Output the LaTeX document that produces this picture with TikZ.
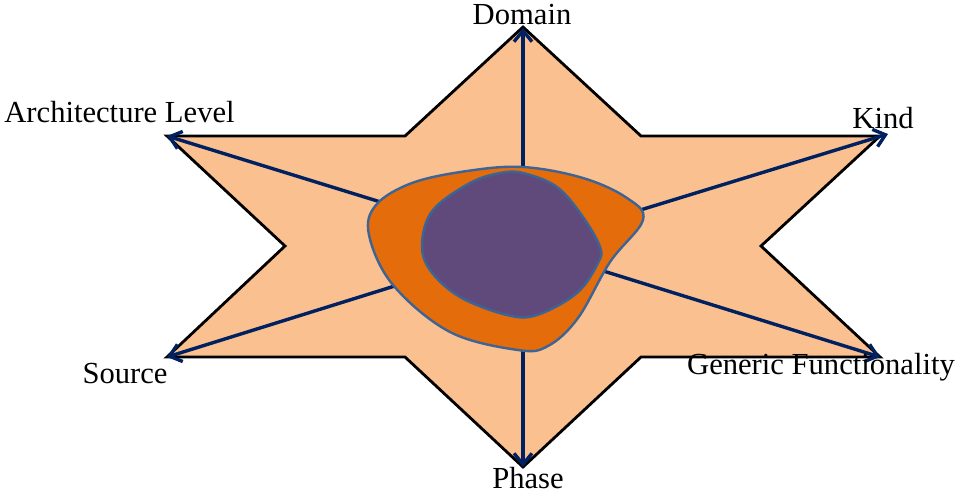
\documentclass[tikz,border=0pt]{standalone}
\usepackage{fontspec}
\setmainfont{Liberation Serif}
\usetikzlibrary{arrows.meta}
\definecolor{starFill}{HTML}{FAC090}
\definecolor{blobOrange}{HTML}{E46C0A}
\definecolor{blobPurple}{HTML}{604A7B}
\definecolor{blobEdge}{HTML}{3C6496}
\definecolor{axisBlue}{HTML}{002060}

\begin{document}
\begin{tikzpicture}[
  x=0.5pt,y=-0.5pt,
  star/.style={draw=black,fill=starFill,line width=1.4pt,line join=miter},
  blob/.style={draw=blobEdge,line width=1.2pt},
  axis/.style={-{Straight Barb[length=5.5pt,width=9pt]},line width=1.7pt,draw=axisBlue},
  dimlabel/.style={font=\fontsize{15.3}{18}\selectfont,inner sep=0pt,anchor=base}
]
\useasboundingbox (0,0) rectangle (957,494);
% six-pointed star
\draw[star] (523,27) -- (641,136) -- (880,136) -- (761,246) -- (880,357) -- (641,357)
  -- (523,467) -- (405,357) -- (167,357) -- (285,246) -- (167,136) -- (405,136) -- cycle;
% axis ends
\coordinate (c) at (523,246);
\coordinate (domain) at (523,28);
\coordinate (kind) at (888,134);
\coordinate (generic) at (880,357);
\coordinate (phase) at (523,467);
\coordinate (source) at (167,357);
\coordinate (archlevel) at (167,136);
\draw[axis] (c) -- (domain);
\draw[axis] (c) -- (kind);
\draw[axis] (c) -- (generic);
\draw[axis] (c) -- (phase);
\draw[axis] (c) -- (source);
\draw[axis] (c) -- (archlevel);
% blobs
\draw[blob,fill=blobOrange] plot[smooth cycle,tension=0.6] coordinates {
  (523,167) (583,178) (627,198) (643,220) (610,262) (578,318) (548,346) (518,350)
  (450,332) (393,285) (369,235) (376,205) (412,183) (467,171)};
\draw[blob,fill=blobPurple] plot[smooth cycle,tension=0.6] coordinates {
  (523,173) (557,187) (583,217) (600,247) (598,263) (577,293) (537,315)
  (507,315) (460,297) (430,270) (422,243) (433,210) (470,183) (500,173)};
% labels
\node[dimlabel] (domainlbl) at (522,24) {Domain};
\node[dimlabel] (archlbl) at (119.5,122) {Architecture Level};
\node[dimlabel] (kindlbl) at (883,128) {Kind};
\node[dimlabel] (sourcelbl) at (125,383) {Source};
\node[dimlabel] (genericlbl) at (821,374) {Generic Functionality};
\node[dimlabel] (phaselbl) at (528,488) {Phase};
\end{tikzpicture}
\end{document}
